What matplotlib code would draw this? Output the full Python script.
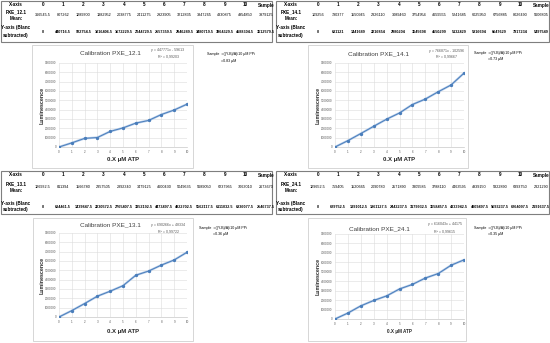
import matplotlib
matplotlib.use('Agg')
import matplotlib.pyplot as plt
from matplotlib import font_manager
from matplotlib.patches import Rectangle
from matplotlib.ticker import FuncFormatter

W, H = 550, 343

have = {f.name for f in font_manager.fontManager.ttflist}
fams = [n for n in ['Liberation Sans Narrow', 'Liberation Sans', 'DejaVu Sans'] if n in have]
plt.rcParams['font.family'] = fams

# ---- data ----
x_vals = list(range(11))
col_labels = [str(i) for i in range(11)] + ['Sample']

mean_12_1 = [366545.5, 807262, 1289300, 1382952, 2038775, 2411275, 2923905, 3212835, 3847265, 4330875, 4954850, 3979125]
y_12_1 = [0, 440716.5, 922754.5, 1016406.5, 1672229.5, 2044729.5, 2557359.5, 2846289.5, 3480719.5, 3964329.5, 4588304.5, 3612579.5]

mean_14_1 = [109256, 790377, 1550945, 2326110, 3089460, 3754954, 4659555, 5241685, 6025950, 6756885, 8026490, 5606805]
y_14_1 = [0, 681121, 1441689, 2216854, 2980204, 3645698, 4550299, 5132429, 5916694, 6647629, 7917234, 5497549]

mean_13_1 = [126932.5, 811394, 1566780, 2357505, 2892340, 3479125, 4600430, 5049635, 5689050, 6237965, 7063010, 2673670]
y_13_1 = [0, 684461.5, 1439847.5, 2230572.5, 2765407.5, 3352192.5, 4473497.5, 4922702.5, 5562117.5, 6111032.5, 6936077.5, 2546737.5]

mean_24_1 = [129652.5, 759405, 1520665, 2090780, 2571890, 3309585, 3788110, 4463595, 4939150, 5822890, 6393750, 2321290]
y_24_1 = [0, 629752.5, 1391012.5, 1961127.5, 2442237.5, 3179932.5, 3658457.5, 4333942.5, 4809497.5, 5693237.5, 6264097.5, 2191637.5]

sample_names = ['PXE_12.1', 'PXE_14.1', 'PXE_13.1', 'PXE_24.1']
equations = ['y = 447771x - 59613', 'y = 766871x - 102596', 'y = 690266x + 48334', 'y = 616043x + 44175']
r_squared = ['R² = 0,99203', 'R² = 0,99667', 'R² = 0,99722', 'R² = 0,99615']
sample_conc = ['=0.83 μM', '=0.73 μM', '=0.36 μM', '=0.35 μM']

means = [mean_12_1, mean_14_1, mean_13_1, mean_24_1]
yvals = [y_12_1, y_14_1, y_13_1, y_24_1]

# ---- layout (pixels) ----
layout = [
    dict(dx=0, tab=(1, 0.5, 272, 42), rows=(5, 12, 18, 15, 28, 35, 32),
         box=(32, 45, 193, 168), plot=(59, 63, 187, 147), title=(110, 53),
         eq=(168, 50, 57), smp=(207, 54, 61), xl=(160, 4.3)),
    dict(dx=275, tab=(276, 0.5, 549, 42), rows=(5, 12, 18, 15, 28, 35, 32),
         box=(308, 45, 468, 168), plot=(335, 63, 464, 147), title=(378, 54),
         eq=(447, 51, 57), smp=(474, 53, 59), xl=(160, 4.3)),
    dict(dx=0, tab=(1, 171, 272, 214), rows=(175, 184, 191, 187, 203, 210, 207),
         box=(33, 218, 193, 341), plot=(59, 233, 187, 317), title=(110, 225),
         eq=(168, 225, 232), smp=(199, 228, 234), xl=(331, 4.3)),
    dict(dx=275, tab=(276, 171, 549, 214), rows=(175, 184, 191, 187, 203, 210, 207),
         box=(308, 218, 466, 341), plot=(335, 234, 464, 319), title=(379, 229),
         eq=(445, 224, 232), smp=(474, 228, 234), xl=(331, 3.3)),
]

fig = plt.figure(figsize=(5.5, 3.43), dpi=100)
fig.patch.set_facecolor('white')


def fx(x):
    return x / W


def fy(y):
    return 1 - y / H


def txt(x, y, s, **kw):
    kw.setdefault('ha', 'center')
    kw.setdefault('va', 'center')
    fig.text(fx(x), fy(y), s, **kw)


def fmt(v):
    return f'{v:.1f}' if v % 1 else f'{int(v)}'


col_x = [43 + 20.2 * i for i in range(11)] + [266]

for k, L in enumerate(layout):
    dx = L['dx']
    # table
    x0, y0, x1, y1 = L['tab']
    fig.patches.append(Rectangle((fx(x0), fy(y1)), (x1 - x0) / W, (y1 - y0) / H,
                                 transform=fig.transFigure, facecolor='white',
                                 edgecolor='#7f7f7f', lw=0.8, zorder=-2))
    r1, l2a, l2b, r2, l3a, l3b, r3 = L['rows']
    txt(16 + dx, r1, 'X-axis', fontsize=3.3, fontweight='bold')
    txt(16 + dx, l2a, sample_names[k], fontsize=3.3, fontweight='bold')
    txt(16 + dx, l2b, 'Mean:', fontsize=3.3, fontweight='bold')
    txt(16 + dx, l3a, 'Y-axis (Blanc', fontsize=3.3, fontweight='bold')
    txt(16 + dx, l3b, 'subtracted)', fontsize=3.3, fontweight='bold')
    for i, c in enumerate(col_labels):
        cx = col_x[i] + dx
        txt(cx, r1, c, fontsize=3.3, fontweight='bold')
        txt(cx, r2, fmt(means[k][i]), fontsize=2.7)
        txt(cx, r3, fmt(yvals[k][i]), fontsize=2.7, fontweight='bold')

    # chart area
    bx0, by0, bx1, by1 = L['box']
    fig.patches.append(Rectangle((fx(bx0), fy(by1)), (bx1 - bx0) / W, (by1 - by0) / H,
                                 transform=fig.transFigure, facecolor='white',
                                 edgecolor='#d0d0d0', lw=0.6, zorder=-2))
    px0, py0, px1, py1 = L['plot']
    ax = fig.add_axes([fx(px0), fy(py1), (px1 - px0) / W, (py1 - py0) / H])
    ax.set_facecolor('none')
    ax.plot(x_vals, yvals[k][:11], color='#b4cbe9', lw=1.6, solid_capstyle='round', zorder=2)
    ax.plot(x_vals, yvals[k][:11], color='#4a7ebb', lw=0.7, marker='o', ms=1.4, zorder=3)
    ax.set_xlim(0, 10)
    ax.set_ylim(0, 9000000)
    ax.set_xticks(x_vals)
    ax.set_yticks(range(0, 9000001, 1000000))
    ax.yaxis.set_major_formatter(FuncFormatter(lambda v, p: f'{int(v)}'))
    ax.tick_params(length=0, pad=2, labelsize=2.2, labelcolor='#595959')
    ax.grid(True, color='#dcdcdc', lw=0.4)
    ax.set_axisbelow(True)
    for s in ['left', 'top', 'right']:
        ax.spines[s].set_visible(False)
    ax.spines['bottom'].set_color('#c8c8c8')
    ax.spines['bottom'].set_linewidth(0.5)

    tx, ty = L['title']
    txt(tx, ty, 'Calibration ' + sample_names[k], fontsize=4.6, color='#404040')
    ex, ey1, ey2 = L['eq']
    txt(ex, ey1, equations[k], fontsize=2.6, color='#595959')
    txt(ex, ey2, r_squared[k], fontsize=2.6, color='#595959')
    xly, xls = L['xl']
    txt((px0 + px1) / 2, xly, '0.X μM ATP', fontsize=xls, fontweight='bold', color='#262626')
    txt(px0 - 17, (py0 + py1) / 2, 'Luminescence', fontsize=3.8, fontweight='bold',
        color='#262626', rotation=90)

    sx, sy1, sy2 = L['smp']
    txt(sx, sy1, 'Sample  =((Y-B)/A)/10 μM PPi', fontsize=2.6, ha='left')
    txt(sx + 14, sy2, sample_conc[k], fontsize=2.6, ha='left')

fig.savefig('out.png', dpi=100)
